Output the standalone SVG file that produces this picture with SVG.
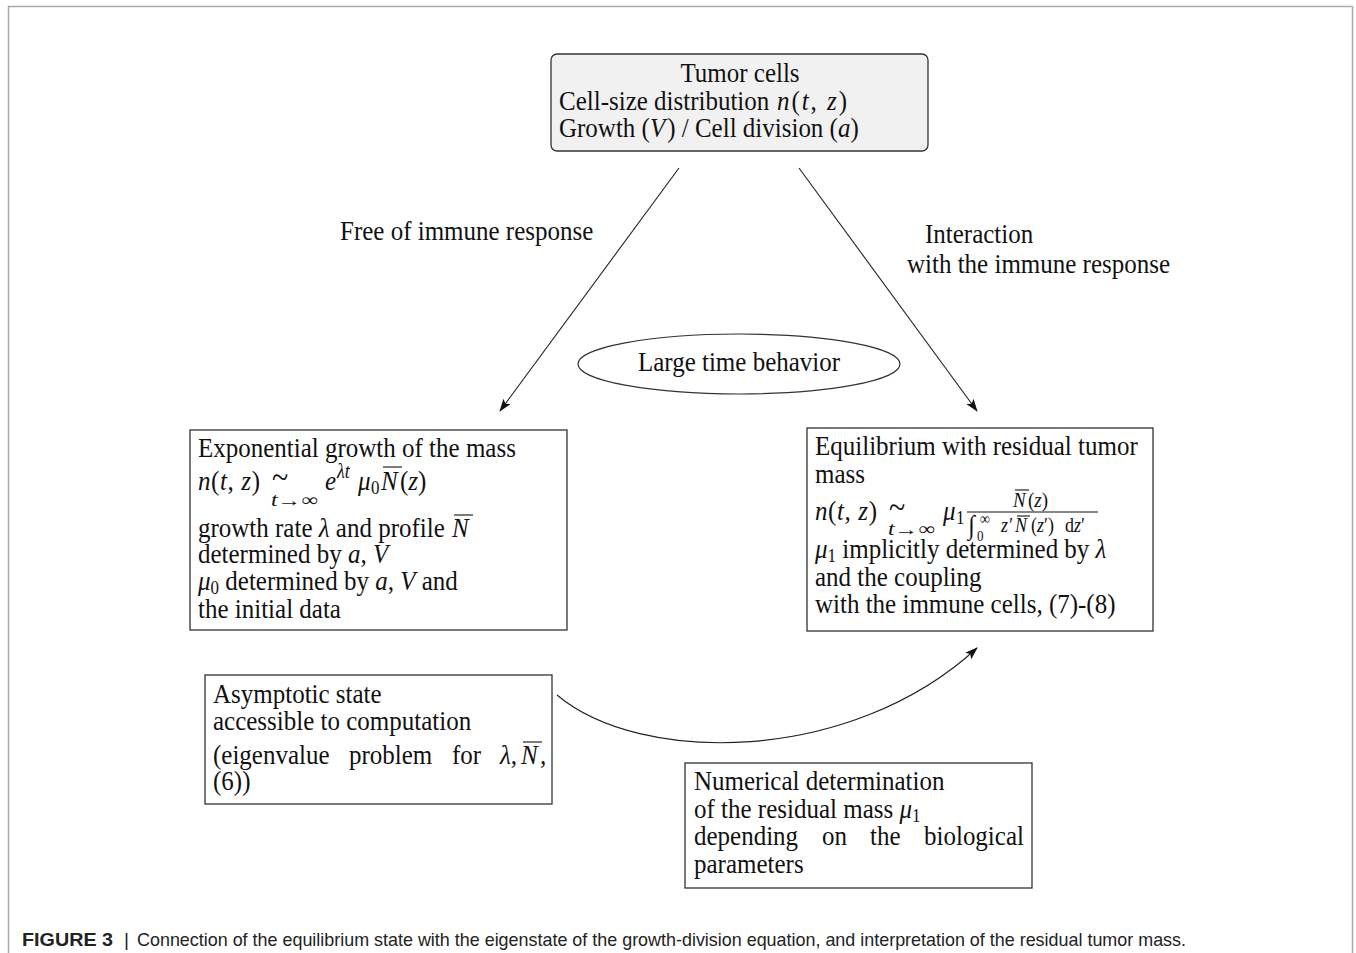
<svg xmlns="http://www.w3.org/2000/svg" width="1356" height="953" viewBox="0 0 1356 953">
<defs>
<style>
.t{font-family:"Liberation Serif","Times New Roman",serif;font-size:25px;fill:#111}
.i{font-style:italic}
.s{font-size:17px}
.box{fill:#fff;stroke:#333;stroke-width:1.3}
.ol{stroke:#111;stroke-width:1.1}
.con{fill:none;stroke:#222;stroke-width:1.1}
.cap{font-family:"Liberation Sans",Arial,sans-serif;font-size:19px;fill:#222}
</style>
<marker id="ah" markerWidth="13" markerHeight="9" refX="12" refY="4.5" orient="auto" markerUnits="userSpaceOnUse">
<path d="M0,0 L13,4.5 L0,9 L3,4.5 z" fill="#111"/>
</marker>
</defs>
<rect width="1356" height="953" fill="#fff"/>
<path d="M8.5,953 V6.5 H1352.5 V953" fill="none" stroke="#aaa" stroke-width="1.5"/>

<g id="connectors">
<line class="con" x1="679" y1="168" x2="500" y2="411" marker-end="url(#ah)"/>
<line class="con" x1="799" y1="168" x2="977" y2="411" marker-end="url(#ah)"/>
<path class="con" d="M557,695 C640,765 850,765 977,648" marker-end="url(#ah)"/>
<text class="t" transform="translate(340,240) scale(1,1.12)">Free of immune response</text>
<text class="t" transform="translate(925,243) scale(1,1.12)">Interaction</text>
<text class="t" transform="translate(907,273) scale(1,1.12)">with the immune response</text>
</g>

<g id="tumor">
<rect x="551" y="54" width="377" height="97" rx="6" fill="#f1f1f1" stroke="#333" stroke-width="1.3"/>
<text class="t" text-anchor="middle" transform="translate(740,82) scale(1,1.12)">Tumor cells</text>
<text class="t" transform="translate(559,110) scale(1,1.12)">Cell-size distribution</text>
<text class="t" transform="translate(777,110) scale(1,1.12)" textLength="70"><tspan class="i">n</tspan>(<tspan class="i">t</tspan>, <tspan class="i">z</tspan>)</text>
<text class="t" transform="translate(559,137) scale(1,1.12)">Growth (<tspan class="i">V</tspan><tspan dx="2">) / Cell division (</tspan><tspan class="i">a</tspan>)</text>
</g>

<g id="large-time">
<ellipse cx="739" cy="364" rx="161" ry="30" fill="#fff" stroke="#333" stroke-width="1.2"/>
<text class="t" text-anchor="middle" transform="translate(739,371) scale(1,1.12)">Large time behavior</text>
</g>

<g id="exponential">
<rect class="box" x="190" y="430" width="377" height="200"/>
<text class="t" transform="translate(198,457) scale(1,1.12)">Exponential growth of the mass</text>
<text class="t" transform="translate(198,490) scale(1,1.12)" textLength="62"><tspan class="i">n</tspan>(<tspan class="i">t</tspan>, <tspan class="i">z</tspan>)</text>
<text class="t" style="font-size:30px" transform="translate(272,488) scale(1,1.12)">~</text>
<text class="t" style="font-size:16px" transform="translate(271,506) scale(1,1.12)" textLength="47" lengthAdjust="spacingAndGlyphs"><tspan class="i">t</tspan>→∞</text>
<text class="t i" transform="translate(325,490) scale(1,1.12)">e</text>
<text class="t i" style="font-size:18px" transform="translate(337,478) scale(1,1.12)">λt</text>
<text class="t i" transform="translate(358,490) scale(1,1.12)">μ</text>
<text class="t s" transform="translate(371,494) scale(1,1.12)">0</text>
<text class="t i" transform="translate(381,490) scale(1,1.12)">N</text>
<text class="t" transform="translate(400,490) scale(1,1.12)">(<tspan class="i">z</tspan>)</text>
<line class="ol" x1="383" y1="467" x2="402" y2="467"/>
<text class="t" transform="translate(198,537) scale(1,1.12)">growth rate <tspan class="i">λ</tspan> and profile</text>
<text class="t i" transform="translate(452,537) scale(1,1.12)">N</text>
<line class="ol" x1="454" y1="515" x2="473" y2="515"/>
<text class="t" transform="translate(198,563) scale(1,1.12)">determined by <tspan class="i">a</tspan>, <tspan class="i">V</tspan></text>
<text class="t" transform="translate(198,590) scale(1,1.12)"><tspan class="i">μ</tspan><tspan class="s" dy="4">0</tspan><tspan dy="-4"> determined by </tspan><tspan class="i">a</tspan>, <tspan class="i">V</tspan> and</text>
<text class="t" transform="translate(198,618) scale(1,1.12)">the initial data</text>
</g>

<g id="equilibrium">
<rect class="box" x="807" y="428" width="346" height="203"/>
<text class="t" transform="translate(815,455) scale(1,1.12)">Equilibrium with residual tumor</text>
<text class="t" transform="translate(815,483) scale(1,1.12)">mass</text>
<text class="t" transform="translate(815,520) scale(1,1.12)" textLength="62"><tspan class="i">n</tspan>(<tspan class="i">t</tspan>, <tspan class="i">z</tspan>)</text>
<text class="t" style="font-size:30px" transform="translate(889,518) scale(1,1.12)">~</text>
<text class="t" style="font-size:16px" transform="translate(888,535) scale(1,1.12)" textLength="47" lengthAdjust="spacingAndGlyphs"><tspan class="i">t</tspan>→∞</text>
<text class="t i" transform="translate(943,520) scale(1,1.12)">μ</text>
<text class="t s" transform="translate(956,524) scale(1,1.12)">1</text>
<text class="t i" style="font-size:19px" transform="translate(1013,507) scale(1,1.12)">N</text>
<text class="t" style="font-size:19px" transform="translate(1028,507) scale(1,1.12)">(<tspan class="i">z</tspan>)</text>
<line class="ol" x1="1015" y1="490" x2="1029" y2="490"/>
<line class="ol" x1="967" y1="512" x2="1098" y2="512"/>
<text class="t" style="font-size:24px" transform="translate(968,534) scale(1,1.12)">∫</text>
<text class="t" style="font-size:14px" transform="translate(980,524) scale(1,1.12)">∞</text>
<text class="t" style="font-size:13px" transform="translate(977,541) scale(1,1.12)">0</text>
<text class="t i" style="font-size:18px" transform="translate(1001,532) scale(1,1.12)">z′</text>
<text class="t i" style="font-size:18px" transform="translate(1015,532) scale(1,1.12)">N</text>
<line class="ol" x1="1017" y1="516" x2="1030" y2="516"/>
<text class="t" style="font-size:18px" transform="translate(1031,532) scale(1,1.12)">(<tspan class="i">z</tspan>′)</text>
<text class="t" style="font-size:18px" transform="translate(1065,532) scale(1,1.12)">d<tspan class="i">z</tspan>′</text>
<text class="t" transform="translate(815,558) scale(1,1.12)"><tspan class="i">μ</tspan><tspan class="s" dy="4">1</tspan><tspan dy="-4"> implicitly determined by </tspan><tspan class="i">λ</tspan></text>
<text class="t" transform="translate(815,586) scale(1,1.12)">and the coupling</text>
<text class="t" transform="translate(815,613) scale(1,1.12)">with the immune cells, (7)-(8)</text>
</g>

<g id="asymptotic">
<rect class="box" x="205" y="675" width="347" height="129"/>
<text class="t" transform="translate(213,703) scale(1,1.12)">Asymptotic state</text>
<text class="t" transform="translate(213,730) scale(1,1.12)">accessible to computation</text>
<text class="t" transform="translate(213,764) scale(1,1.12)">(eigenvalue</text>
<text class="t" transform="translate(349,764) scale(1,1.12)">problem</text>
<text class="t" transform="translate(452,764) scale(1,1.12)">for</text>
<text class="t" transform="translate(500,764) scale(1,1.12)"><tspan class="i">λ</tspan>,</text>
<text class="t i" transform="translate(521,764) scale(1,1.12)">N</text>
<text class="t" transform="translate(540,764) scale(1,1.12)">,</text>
<line class="ol" x1="523" y1="742" x2="542" y2="742"/>
<text class="t" transform="translate(213,790) scale(1,1.12)">(6))</text>
</g>

<g id="numerical">
<rect class="box" x="685" y="763" width="347" height="125"/>
<text class="t" transform="translate(694,790) scale(1,1.12)">Numerical determination</text>
<text class="t" transform="translate(694,818) scale(1,1.12)">of the residual mass <tspan class="i">μ</tspan><tspan class="s" dy="4">1</tspan></text>
<text class="t" transform="translate(694,845) scale(1,1.12)">depending</text>
<text class="t" transform="translate(822,845) scale(1,1.12)">on</text>
<text class="t" transform="translate(870,845) scale(1,1.12)">the</text>
<text class="t" transform="translate(924,845) scale(1,1.12)">biological</text>
<text class="t" transform="translate(694,873) scale(1,1.12)">parameters</text>
</g>

<g id="caption">
<text class="cap" x="22" y="946" font-weight="bold" textLength="91" lengthAdjust="spacingAndGlyphs" fill="#111">FIGURE 3</text>
<text class="cap" x="124" y="946" fill="#999">|</text>
<text class="cap" x="137" y="946" textLength="1049" lengthAdjust="spacingAndGlyphs">Connection of the equilibrium state with the eigenstate of the growth-division equation, and interpretation of the residual tumor mass.</text>
</g>
</svg>
